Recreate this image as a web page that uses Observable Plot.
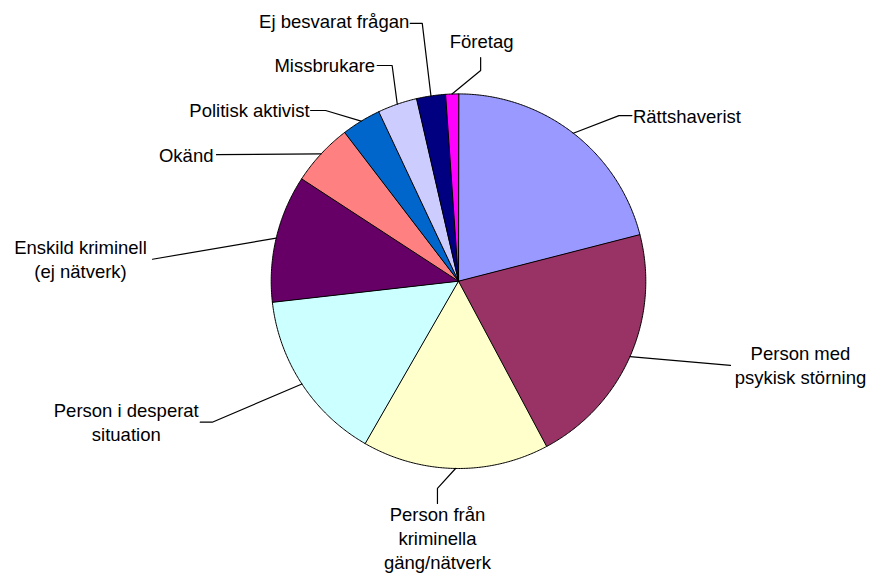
<!DOCTYPE html>
<html>
<head>
<meta charset="utf-8">
<script src="https://cdn.jsdelivr.net/npm/d3@7"></script>
<script src="https://cdn.jsdelivr.net/npm/@observablehq/plot@0.6"></script>
<style>
  html, body { margin: 0; padding: 0; background: #fff; }
  #chart svg { display: block; }
</style>
</head>
<body>
<div id="chart"></div>
<script>
// ---- data ----
const categories = [
  "Rättshaverist",
  "Person med psykisk störning",
  "Person från kriminella gäng/nätverk",
  "Person i desperat situation",
  "Enskild kriminell (ej nätverk)",
  "Okänd",
  "Politisk aktivist",
  "Missbrukare",
  "Ej besvarat frågan",
  "Företag"
];
const labels = [
  "Rättshaverist",
  "Person med\npsykisk störning",
  "Person från\nkriminella\ngäng/nätverk",
  "Person i desperat\nsituation",
  "Enskild kriminell\n(ej nätverk)",
  "Okänd",
  "Politisk aktivist",
  "Missbrukare",
  "Ej besvarat frågan",
  "Företag"
];
const values = [21.0, 21.2, 16.1, 14.9, 11.0, 5.4, 3.4, 3.4, 2.5, 1.1];
const colors = ["#9999FF", "#993366", "#FFFFCC", "#CCFFFF", "#660066", "#FF8080", "#0066CC", "#CCCCFF", "#000080", "#FF00FF"];

// ---- layout (label placement, Excel-like) ----
// elbow: polar angle (deg, clockwise from 12 o'clock) and radius factor; stub/text offsets in px
const labelLayout = [
  {angle: 44.1,  k: 1.231, stub: [13, 0],  text: [14, 0],   anchor: "start"},
  {angle: 107.2, k: 1.52,  stub: [0, 0],   text: [70, -1],  anchor: "middle"},
  {angle: 185.8, k: 1.112, stub: [0, 15],  text: [0, 49],   anchor: "middle"},
  {angle: 240.2, k: 1.515, stub: [-12, 0], text: [-86, -1], anchor: "middle"},
  {angle: 274.1, k: 1.638, stub: [0, 0],   text: [-72, -1], anchor: "middle"},
  {angle: 297.6, k: 1.458, stub: [0, 0],   text: [-3, 0],   anchor: "end"},
  {angle: 322.1, k: 1.155, stub: [-15, 0], text: [-16, -1], anchor: "end"},
  {angle: 342.9, k: 1.205, stub: [-15, 0], text: [-17, -1], anchor: "end"},
  {angle: 352.0, k: 1.39,  stub: [-12, 0], text: [-13, -3], anchor: "end"},
  {angle: 6.0,   k: 1.131, stub: [0, -13], text: [1, -30],  anchor: "middle"}
];

const W = 871, H = 574;
const cx = 458, cy = 280.7, R = 187.3;
const rad = d => d * Math.PI / 180;
const px = p => p / R; // px -> data units

// ---- geometry from values ----
const total = d3.sum(values);
const slices = [];
const leaders = [];
const texts = [];
let acc = 0;
categories.forEach((c, i) => {
  const a0 = acc / total * 360;
  acc += values[i];
  const a1 = acc / total * 360;
  slices.push({cat: c, x: 0, y: 0});
  const steps = Math.max(2, Math.ceil((a1 - a0) / 0.5));
  for (let s = 0; s <= steps; s++) {
    const a = rad(a0 + (a1 - a0) * s / steps);
    slices.push({cat: c, x: Math.sin(a), y: Math.cos(a)});
  }
  const mid = rad((a0 + a1) / 2);
  const L = labelLayout[i];
  const ex = L.k * Math.sin(rad(L.angle)), ey = L.k * Math.cos(rad(L.angle));
  leaders.push({cat: c, x: Math.sin(mid), y: Math.cos(mid)});
  leaders.push({cat: c, x: ex, y: ey});
  if (L.stub[0] || L.stub[1]) leaders.push({cat: c, x: ex + px(L.stub[0]), y: ey - px(L.stub[1])});
  texts.push({cat: c, label: labels[i], anchor: L.anchor, x: ex + px(L.text[0]), y: ey - px(L.text[1])});
});

const textStyle = {
  fontSize: 18.5,
  fontFamily: "'Liberation Sans', Arial, Helvetica, sans-serif",
  lineHeight: 24 / 18.5,
  lineAnchor: "middle",
  fill: "#000"
};

const chart = Plot.plot({
  width: W,
  height: H,
  margin: 0,
  x: {domain: [-1, 1], range: [cx - R, cx + R], axis: null},
  y: {domain: [-1, 1], range: [cy + R, cy - R], axis: null},
  color: {domain: categories, range: colors},
  style: {background: "#fff", overflow: "visible"},
  marks: [
    Plot.line(slices, {x: "x", y: "y", z: "cat", fill: "cat", stroke: "#000", strokeWidth: 1, curve: "linear-closed", strokeLinejoin: "miter"}),
    Plot.line(leaders, {x: "x", y: "y", z: "cat", stroke: "#000", strokeWidth: 1.2}),
    ...["start", "middle", "end"].map(a =>
      Plot.text(texts.filter(t => t.anchor === a), {x: "x", y: "y", text: "label", textAnchor: a, ...textStyle})
    )
  ]
});
document.getElementById("chart").appendChild(chart);
</script>
</body>
</html>
